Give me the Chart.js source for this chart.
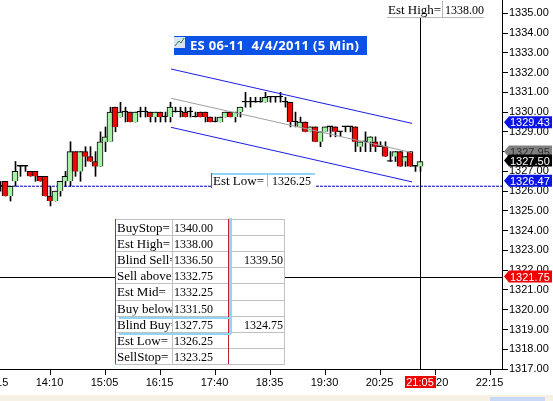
<!DOCTYPE html>
<html>
<head>
<meta charset="utf-8">
<title>ES 06-11 5 Min</title>
<style>
  html, body { margin: 0; padding: 0; background: #fff; overflow: hidden; }
  canvas { display: block; }
</style>
<script src="https://cdn.jsdelivr.net/npm/chart.js@4"></script>
</head>
<body>
<canvas id="esChart" width="553" height="401"></canvas>
<script>
// 5 minute bars (bar 0 is cut by the left edge)
var opens = [1326.25,1326.5,1325.75,1326.5,1327.25,1327.25,1327,1327,1326.75,1326.75,
  1325.75,1325.5,1326,1326.5,1326.5,1328,1327,1328,1327.75,1327.5,
  1327.25,1328.5,1328.5,1330.25,1329.75,1330,1330,1329.5,1330,1330,
  1330,1329.75,1330,1329.75,1329.75,1330,1330,1330,1330,1329.75,
  1330,1330,1329.75,1329.5,1329.5,1329.75,1330,1329.75,1330,1330.5,
  1330.5,1330.5,1330.5,1330.5,1330.75,1330.75,1330.75,1330.5,1330.5,1329.5,
  1329.25,1329.5,1329,1329.25,1328.5,1329,1329.25,1329.25,1329,1329.25,
  1329.25,1329.25,1328.25,1328.5,1328.5,1328.5,1328.25,1328.25,1327.5,1327.75,
  1328,1327.5,1328,1327.25,1327.25];
var highs = [1326.5,1326.5,1326.25,1327.5,1327.25,1327.25,1327,1327,1326.75,1326.75,
  1326.25,1326,1326.5,1327,1328.5,1328,1328,1328.25,1328.25,1328,
  1329,1329.25,1330.25,1330.25,1330.5,1330.25,1330,1330,1330.25,1330.25,
  1330,1330,1330,1330,1330.5,1330.25,1330.25,1330.25,1330.25,1330,
  1330,1330,1329.75,1329.75,1329.75,1330,1330,1330,1330.25,1331,
  1330.75,1330.75,1330.75,1331,1330.75,1330.75,1331,1330.75,1330.5,1330,
  1329.75,1329.5,1329.25,1329.25,1329,1329.25,1329.25,1329.25,1329,1329.25,
  1329.25,1329.25,1328.5,1329,1328.75,1328.75,1328.5,1328.5,1328,1328,
  1328,1327.75,1328,1327.25,1327.5];
var lows = [1326,1325.75,1325.5,1326.25,1326.75,1327,1326.75,1326.5,1326.5,1325.75,
  1325.25,1325.5,1325.75,1326.25,1326.25,1326.75,1326.5,1327.25,1327.5,1326.75,
  1327.25,1328,1328.5,1329,1329.75,1329.5,1329.5,1329.5,1329.75,1329.75,
  1329.5,1329.5,1329.5,1329.5,1329.5,1330,1329.75,1329.75,1329.75,1329.75,
  1329.75,1329.5,1329.5,1329.5,1329.5,1329.75,1329.75,1329.5,1329.75,1330.25,
  1330.25,1330.5,1330.5,1330.5,1330.5,1330.5,1330.5,1330.25,1329.25,1329.25,
  1329.25,1329,1329,1328.5,1328.25,1329,1328.75,1328.75,1328.75,1329,
  1329,1328,1328,1328,1328,1328,1328.25,1327.75,1327.5,1327.5,
  1327.25,1327.25,1327.25,1327,1327];
var closes = [1326.25,1325.75,1326.25,1327,1327.25,1327.25,1326.75,1326.75,1326.5,1325.75,
  1325.5,1326,1326.5,1326.75,1328,1327,1328,1327.75,1327.5,1327.25,
  1328.5,1328.75,1330,1329.25,1330,1330,1329.5,1330,1330,1330,
  1329.75,1330,1329.75,1329.75,1330.25,1330,1330,1329.75,1330,1329.75,
  1329.75,1329.75,1329.5,1329.5,1329.75,1330,1329.75,1330,1330.25,1330.5,
  1330.5,1330.5,1330.5,1330.75,1330.75,1330.75,1330.75,1330.5,1329.5,1329.5,
  1329.5,1329,1329.25,1328.5,1329,1329.25,1329.25,1329,1329,1329.25,
  1329.25,1328.5,1328.5,1328.5,1328.75,1328.25,1328.25,1327.75,1327.5,1328,
  1327.25,1327.75,1327.25,1327.25,1327.5];

// bar -1 sits just off the left edge, only the tail of its label shows
var tickBars = [-1, 10, 21, 32, 43, 54, 65, 76, 87, 98];
var tickLabels = ['13:15', '14:10', '15:05', '16:15', '17:40', '18:35', '19:30', '20:25', '21:20', '22:15'];

// regression channel drawn over the bars
var channelBars = [34.1, 82.3];
var channelUpper = [1332.18, 1329.43];
var channelMid = [1330.70, 1327.95];
var channelLower = [1329.23, 1326.47];

var estLow = 1326.25;
var crossBar = 84;
var crossPrice = 1321.63;

var tagPrices = [1329.43, 1327.95, 1326.47, 1327.50, crossPrice];
var tagTexts = ['1329.43', '1327.95', '1326.47', '1327.50', '1321.75'];
var tagFills = ['#0a14e6', '#808080', '#0a14e6', '#000000', '#f00000'];
var tagInks = ['#ffffff', '#303030', '#ffffff', '#ffffff', '#ffffff'];

var tableNames = ['BuyStop=', 'Est High=', 'Blind Sell=', 'Sell above', 'Est Mid=', 'Buy below', 'Blind Buy=', 'Est Low=', 'SellStop='];
var tableLevels = ['1340.00', '1338.00', '1336.50', '1332.75', '1332.25', '1331.50', '1327.75', '1326.25', '1323.25'];
var tableExtra = ['', '', '1339.50', '', '', '', '1324.75', '', ''];

var yMin = 1317, yMax = 1335.673;
var xMin = -0.1, xMax = 100.3;

var bodyFill = [], bodies = [], wicks = [];
for (var i = 0; i < opens.length; i++) {
  // bodies are 6px wide, the small shift keeps their edges on whole pixels
  bodies.push({ x: i - 0.1, y: [opens[i], closes[i]] });
  wicks.push({ x: i, y: [lows[i], highs[i]] });
  if (closes[i] > opens[i]) bodyFill.push('#a6f2a6');
  else if (closes[i] < opens[i]) bodyFill.push('#ee0808');
  else bodyFill.push('#000000');
}

function segment(xs, ys) {
  return xs.map(function (x, k) { return { x: x, y: ys[k] }; });
}

function lineSet(points, color, order, dash) {
  return {
    type: 'line', data: points, borderColor: color, borderWidth: 1,
    borderDash: dash || [], pointRadius: 0, tension: 0, order: order
  };
}

function cellText(ctx, text, x, y, left, right, top, bottom) {
  ctx.save();
  ctx.beginPath();
  ctx.rect(left, top, right - left, bottom - top);
  ctx.clip();
  ctx.fillText(text, x, y);
  ctx.restore();
}

// everything the platform paints on top of the price pane
var overlays = {
  id: 'overlays',
  afterDraw: function (chart) {
    var ctx = chart.ctx;
    var xs = chart.scales.x, ys = chart.scales.y;
    ctx.save();
    ctx.textBaseline = 'alphabetic';

    // time labels, drawn here so the edge label can hang off the canvas
    ctx.fillStyle = '#000';
    ctx.font = '11px "Liberation Sans"';
    ctx.textAlign = 'center';
    tickBars.forEach(function (b, k) {
      ctx.fillText(tickLabels[k], xs.getPixelForValue(b) - 1, 386);
    });

    // time cursor label
    ctx.fillStyle = '#f00000';
    ctx.fillRect(405, 376, 31, 12);
    ctx.fillStyle = '#fff';
    ctx.fillText('21:05', 420, 386);

    // price tags
    ctx.textAlign = 'left';
    tagPrices.forEach(function (p, k) {
      var y = ys.getPixelForValue(p) - 1;
      ctx.fillStyle = tagFills[k];
      ctx.beginPath();
      ctx.moveTo(504, y);
      ctx.lineTo(509, y - 6);
      ctx.lineTo(552, y - 6);
      ctx.lineTo(552, y + 6);
      ctx.lineTo(509, y + 6);
      ctx.closePath();
      ctx.fill();
      ctx.fillStyle = tagInks[k];
      ctx.fillText(tagTexts[k], 510, y + 4);
    });

    // title bar
    ctx.fillStyle = '#0c52e6';
    ctx.fillRect(174, 36, 193, 19);
    ctx.fillStyle = '#d8e4f4';
    ctx.fillRect(174, 37, 11, 11);
    ctx.strokeStyle = '#2a8a3a';
    ctx.beginPath();
    ctx.moveTo(175, 46);
    ctx.lineTo(179, 41);
    ctx.lineTo(181, 43);
    ctx.lineTo(184, 38);
    ctx.stroke();
    ctx.fillStyle = '#fff';
    ctx.font = 'bold 13px "Noto Sans"';
    ctx.letterSpacing = '0.3px';
    ctx.fillText('ES 06-11  4/4/2011 (5 Min)', 190, 50);
    ctx.letterSpacing = '0px';

    // Est High box
    ctx.fillStyle = '#fff';
    ctx.fillRect(386, 0, 100, 18);
    ctx.fillStyle = '#b8b8b8';
    ctx.fillRect(387, 17, 97, 1);
    ctx.fillRect(442, 1, 1, 16);
    ctx.fillStyle = '#000';
    ctx.font = '13px "Liberation Serif"';
    ctx.fillText('Est High=', 388, 14);
    ctx.font = '12px "Liberation Serif"';
    ctx.fillText('1338.00', 445, 14);

    // Est Low box
    ctx.fillStyle = '#fff';
    ctx.fillRect(211, 173, 104, 15);
    ctx.fillStyle = '#8fd6f5';
    ctx.fillRect(212, 173, 103, 2);
    ctx.fillStyle = '#c03040';
    ctx.fillRect(211, 173, 1, 15);
    ctx.fillStyle = '#b8b8b8';
    ctx.fillRect(267, 175, 1, 12);
    ctx.fillStyle = '#000';
    ctx.font = '13px "Liberation Serif"';
    ctx.fillText('Est Low=', 213, 185);
    ctx.font = '12px "Liberation Serif"';
    ctx.fillText('1326.25', 272, 185);

    // levels table
    var colX = [115, 172, 228, 284];
    var rowTop = 219, rowH = 16.1;
    var rowBottom = rowTop + rowH * tableNames.length;
    ctx.fillStyle = '#fff';
    ctx.fillRect(colX[0], rowTop, colX[3] - colX[0], rowBottom - rowTop);
    ctx.fillStyle = '#c0c0c0';
    tableNames.forEach(function (n, r) {
      ctx.fillRect(colX[0], Math.round(rowTop + rowH * r), colX[3] - colX[0] + 1, 1);
    });
    ctx.fillRect(colX[0], Math.round(rowBottom), colX[3] - colX[0] + 1, 1);
    ctx.fillRect(colX[1], rowTop, 1, rowBottom - rowTop);
    ctx.fillRect(colX[3], rowTop, 1, rowBottom - rowTop);
    ctx.fillStyle = '#c02030';
    ctx.fillRect(colX[0], rowTop, 1, rowBottom - rowTop);
    ctx.fillRect(colX[2], rowTop, 1, rowBottom - rowTop);
    ctx.fillStyle = '#8fd6f5';
    ctx.fillRect(colX[2] + 1, rowTop - 1, 3, 116);
    ctx.fillRect(119, 317, 112, 2);
    ctx.fillRect(119, 333, 112, 2);
    ctx.fillStyle = '#000';
    tableNames.forEach(function (n, r) {
      var top = rowTop + rowH * r, base = top + 13;
      ctx.textAlign = 'left';
      ctx.font = '13px "Liberation Serif"';
      cellText(ctx, n, colX[0] + 2, base, colX[0] + 1, colX[1], top, top + rowH);
      ctx.font = '12px "Liberation Serif"';
      ctx.fillText(tableLevels[r], colX[1] + 2, base);
      if (tableExtra[r]) ctx.fillText(tableExtra[r], colX[2] + 16, base);
    });

    // bit of the window frame under the chart
    ctx.fillStyle = '#f6f1e2';
    ctx.fillRect(0, 395, 553, 6);
    ctx.fillStyle = '#c8d8f6';
    ctx.fillRect(490, 397, 55, 4);
    ctx.restore();
  }
};

new Chart(document.getElementById('esChart').getContext('2d'), {
  data: {
    datasets: [
      lineSet(segment(channelBars, channelUpper), '#1c1ce8', 1),
      lineSet(segment(channelBars, channelLower), '#1c1ce8', 1),
      lineSet(segment(channelBars, channelMid), '#a0a0a0', 2),
      { type: 'bar', data: bodies, grouped: false, barThickness: 6, minBarLength: 1,
        backgroundColor: bodyFill, borderColor: '#000', borderWidth: 1, order: 3 },
      { type: 'bar', data: wicks, grouped: false, barThickness: 1,
        backgroundColor: '#000', borderWidth: 0, order: 4 },
      lineSet(segment([crossBar, crossBar], [yMin, yMax]), '#000', 5),
      lineSet(segment([xMin, xMax], [crossPrice, crossPrice]), '#000', 5),
      lineSet(segment([xMin, xMax], [estLow, estLow]), '#0000b0', 6, [3, 1])
    ]
  },
  options: {
    responsive: false,
    animation: false,
    devicePixelRatio: 1,
    layout: { padding: 0 },
    plugins: { legend: { display: false }, tooltip: { enabled: false } },
    scales: {
      x: {
        type: 'linear',
        offset: false,
        min: xMin,
        max: xMax,
        afterBuildTicks: function (scale) {
          scale.ticks = tickBars.map(function (b) { return { value: b }; });
        },
        afterFit: function (scale) { scale.height = 32; },
        grid: { offset: false, drawOnChartArea: false, color: '#000', tickLength: 6 },
        border: { color: '#000', width: 1 },
        ticks: { display: false }
      },
      y: {
        position: 'right',
        min: yMin,
        max: yMax,
        afterFit: function (scale) {
          scale.width = 51;
          scale.paddingTop = 0;
          scale.paddingBottom = 0;
        },
        grid: { drawOnChartArea: false, color: '#000', tickLength: 6 },
        border: { color: '#000', width: 1 },
        ticks: {
          stepSize: 1,
          includeBounds: false,
          padding: 1,
          color: '#000',
          font: { family: '"Liberation Sans"', size: 11 },
          callback: function (v) { return v.toFixed(2); }
        }
      }
    }
  },
  plugins: [overlays]
});
</script>
</body>
</html>
